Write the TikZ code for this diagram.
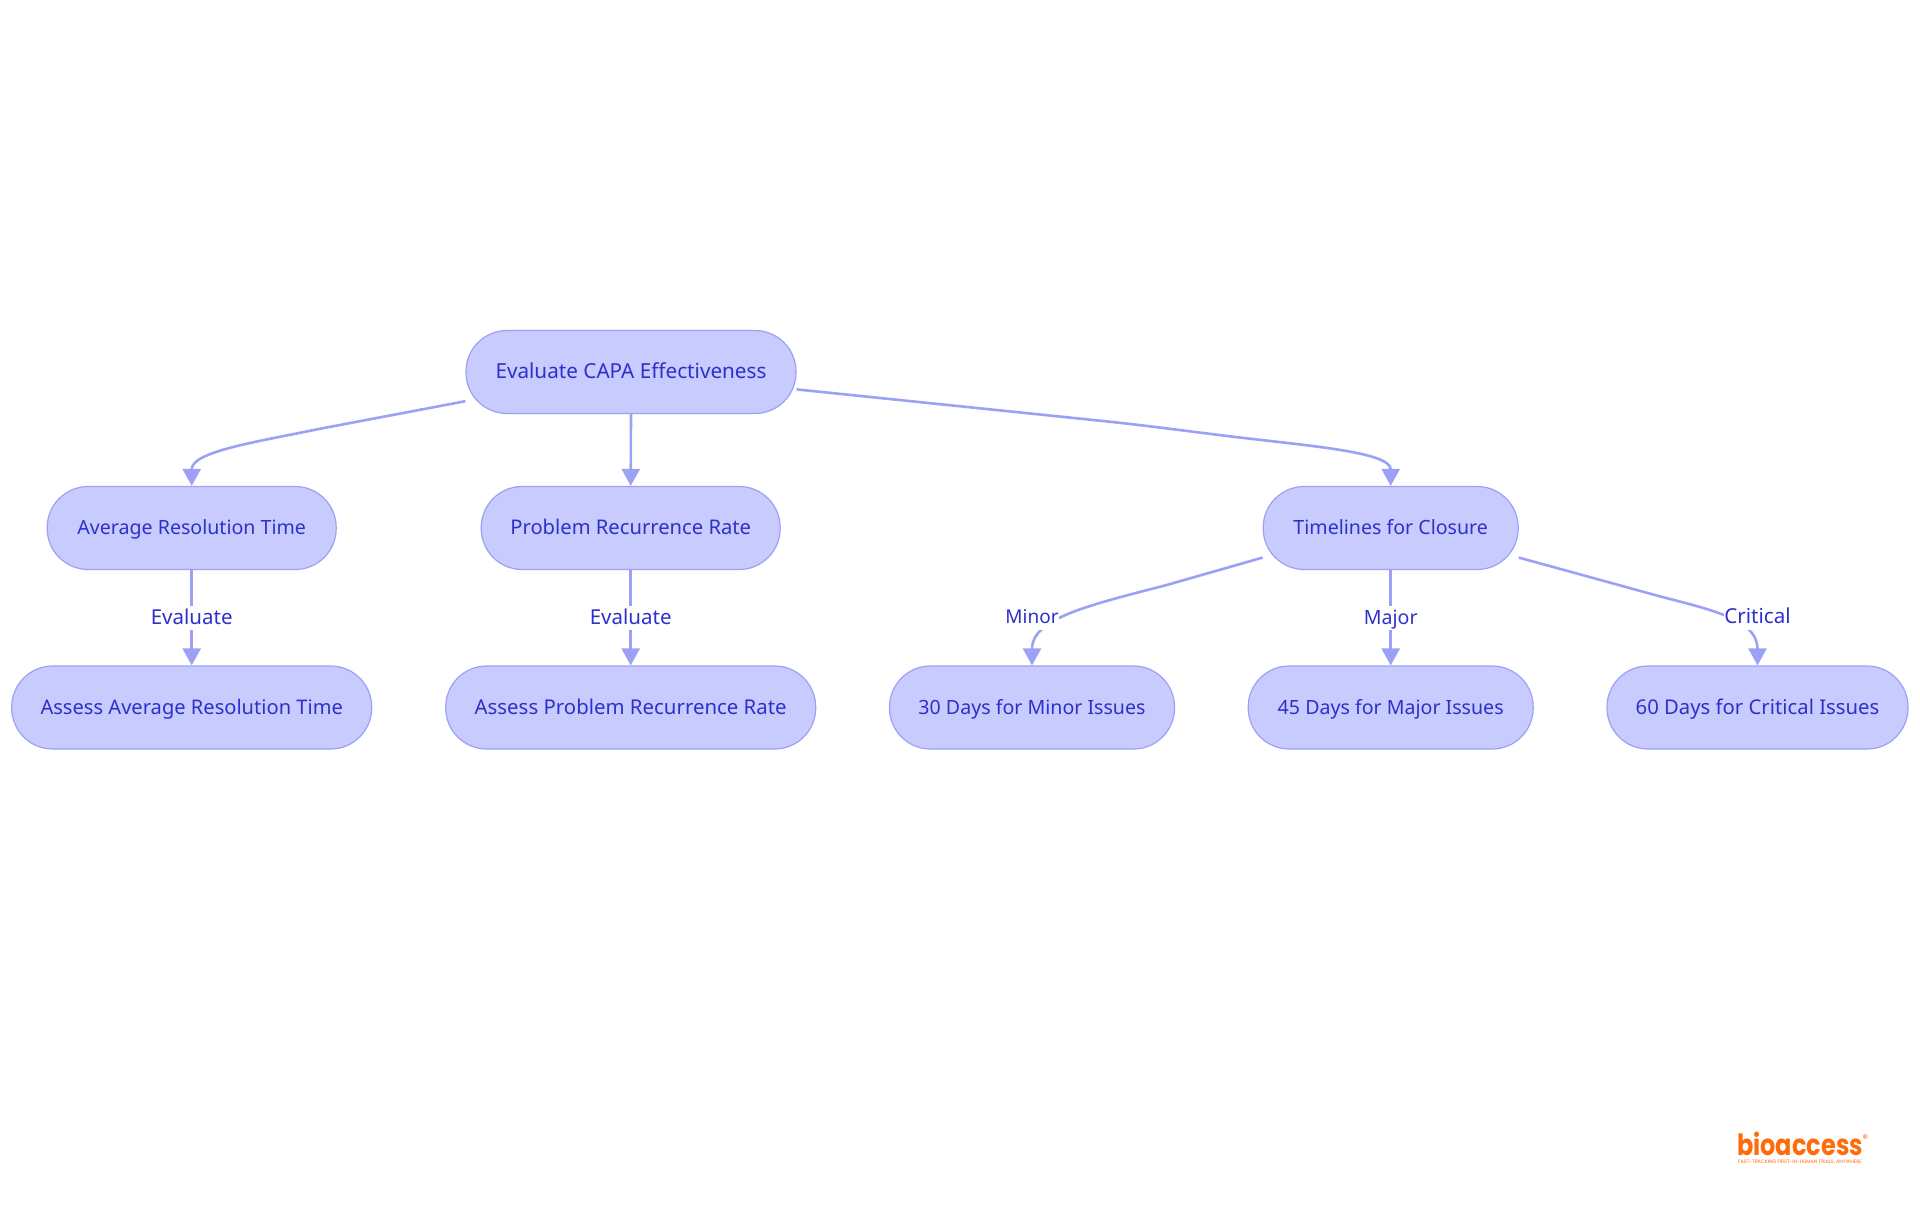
\documentclass[tikz,border=0pt]{standalone}
\usepackage{fontspec}
\setmainfont{Noto Sans}
\newfontfamily\logofont{Poppins}
\usetikzlibrary{arrows.meta,positioning}
\definecolor{nodefill}{HTML}{C8CBFD}
\definecolor{nodeline}{HTML}{9DA1F5}
\definecolor{nodetext}{HTML}{2E30CC}
\definecolor{logoorange}{HTML}{FF6B0A}
\tikzset{
  fs/.style={font=\fontsize{#1pt}{24pt}\selectfont},
  box/.style={draw=nodeline,fill=nodefill,line width=1.2pt,rounded corners=41pt,minimum height=83pt,inner sep=0pt,text=nodetext,fs=19.6,text height=16pt,text depth=3.4pt,anchor=center},
  lowbox/.style={box,text depth=2.6pt},
  edge/.style={draw=nodeline,line width=2.6pt,-{Triangle[length=17pt,width=18pt]}},
  edgelabel/.style={fill=white,text=nodetext,fs=19.6,inner xsep=0pt,inner ysep=2.5pt,text height=16pt,text depth=3.4pt,anchor=center},
}
\begin{document}
\begin{tikzpicture}[x=1pt,y=-1pt]
\useasboundingbox (0,0) rectangle (1920,1215);
\fill[white] (0,0) rectangle (1920,1215);
\node[box,fs=20.7,minimum width=330pt] (root) at (631,372) {Evaluate CAPA Effectiveness};
\node[box,minimum width=289pt] (avg) at (191.7,528) {Average Resolution Time};
\node[box,fs=20.2,minimum width=299pt] (prob) at (630.7,528) {Problem Recurrence Rate};
\node[box,minimum width=255pt] (time) at (1390.7,528) {Timelines for Closure};
\node[lowbox,fs=20.1,minimum width=360pt] (aavg) at (191.7,707.5) {Assess Average Resolution Time};
\node[lowbox,fs=20.4,minimum width=370pt] (aprob) at (630.7,707.5) {Assess Problem Recurrence Rate};
\node[lowbox,minimum width=285pt] (minor) at (1032,707.5) {30 Days for Minor Issues};
\node[lowbox,minimum width=285pt] (major) at (1390.7,707.5) {45 Days for Major Issues};
\node[lowbox,fs=20.3,minimum width=301pt] (crit) at (1757.5,707.5) {60 Days for Critical Issues};

\draw[edge] (root.190) -- (324,428) .. controls (250,443) and (191.7,452) .. (avg.north);
\draw[edge] (root.south) -- (prob.north);
\draw[edge] (root.354) -- (1100,420.7) .. controls (1145,425.3) and (1190,431.5) .. (1233,436.7) .. controls (1310,446) and (1390.7,452) .. (time.north);
\draw[edge] (avg.south) -- node[edgelabel,fs=20.5,pos=.5] {Evaluate} (aavg.north);
\draw[edge] (prob.south) -- node[edgelabel,fs=20.5,pos=.5] {Evaluate} (aprob.north);
\draw[edge] (time.193.9) -- (1166.7,585) .. controls (1090,605) and (1032,618) .. (minor.north);
\node[edgelabel,fs=19] (lminor) at (1032,617.6) {Minor};
\draw[edge] (time.south) -- node[edgelabel,pos=.5] {Major} (major.north);
\draw[edge] (time.-13.9) -- (1643,591.7) .. controls (1700,608) and (1757.5,616) .. (crit.north);
\node[edgelabel,fs=20.6] (lcrit) at (1757.5,617.6) {Critical};

\node[text=logoorange,font=\logofont\bfseries\fontsize{24pt}{26pt}\selectfont,inner sep=0pt,anchor=base] (logo) at (1800,1155) {\scalebox{1}[1.22]{bioaccess}};
\node[text=logoorange,font=\logofont\fontsize{11pt}{12pt}\selectfont,inner sep=0pt,anchor=center] (reg) at (1865.5,1139) {®};
\node[text=logoorange,font=\logofont\fontsize{4.9pt}{5pt}\selectfont,inner sep=0pt,anchor=center] (tag) at (1800,1162) {FAST-TRACKING FIRST-IN-HUMAN TRIALS, ANYWHERE};
\end{tikzpicture}
\end{document}
